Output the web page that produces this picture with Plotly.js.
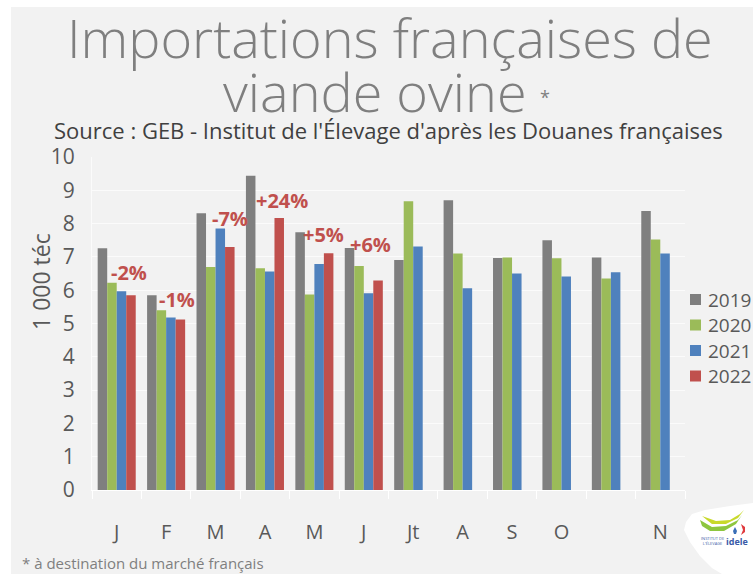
<!DOCTYPE html>
<html>
<head>
<meta charset="utf-8">
<script src="https://cdn.plot.ly/plotly-3.0.1.min.js"></script>
<style>
html,body{margin:0;padding:0;background:#ffffff;width:753px;height:574px;overflow:hidden;}
#chart{position:absolute;left:0;top:0;width:753px;height:574px;}
</style>
</head>
<body>
<div id="chart"></div>
<script>
// ---- data ----
const categories = ["Jan","Fev","Mar","Avr","Mai","Juin","Juil","Aout","Sep","Oct","Nov","Dec"];
const tickLabels = ["J","F","M","A","M","J","Jt","A","S","O","","N"];
const years = ["2019","2020","2021","2022"];
const v2019 = [7.26, 5.85, 8.31, 9.44, 7.74, 7.27, 6.91, 8.70, 6.97, 7.50, 6.98, 8.38];
const v2020 = [6.22, 5.40, 6.70, 6.66, 5.87, 6.73, 8.67, 7.10, 6.98, 6.96, 6.35, 7.52];
const v2021 = [5.97, 5.18, 7.85, 6.56, 6.79, 5.91, 7.31, 6.06, 6.50, 6.41, 6.54, 7.10];
const v2022 = [5.85, 5.12, 7.30, 8.17, 7.11, 6.29, null, null, null, null, null, null];
const changeLabels = ["-2%","-1%","-7%","+24%","+5%","+6%"];

const colors = ["#7f7f7f","#9bbb59","#4f81bd","#c0504d"];
const series = [v2019, v2020, v2021, v2022];

// ---- layout geometry helpers (pixel -> paper) ----
const M = {l:92, r:68, t:157, b:84};
const W = 753 - M.l - M.r, H = 574 - M.t - M.b;
function px(x){ return (x - M.l) / W; }
function py(y){ return 1 - (y - M.t) / H; }

const traces = series.map((vals, i) => ({
  type: "bar",
  name: years[i],
  x: categories,
  y: vals,
  marker: {color: colors[i]},
  showlegend: false,
  hoverinfo: "x+y+name"
}));

// percentage annotation positions (category index offset, y value)
const changePos = [[0.25,6.54],[1.22,5.73],[2.29,8.16],[3.35,8.70],[4.19,7.68],[5.13,7.38]];

const FONT = "'Open Sans', Lato, sans-serif";
const annotations = [];
changeLabels.forEach((t, i) => {
  annotations.push({
    x: changePos[i][0], y: changePos[i][1], xref: "x", yref: "y",
    text: "<b>" + t + "</b>", showarrow: false,
    font: {family: FONT, size: 20, color: "#c0504d"},
    xanchor: "center", yanchor: "middle"
  });
});
// titles
annotations.push({xref:"paper", yref:"paper", x: px(390), y: py(37), text: "Importations françaises de",
  showarrow:false, xanchor:"center", yanchor:"middle", font:{family:FONT, size:54, weight:300, color:"#7f7f7f"}});
annotations.push({xref:"paper", yref:"paper", x: px(375), y: py(91), text: "viande ovine",
  showarrow:false, xanchor:"center", yanchor:"middle", font:{family:FONT, size:54, weight:300, color:"#7f7f7f"}});
annotations.push({xref:"paper", yref:"paper", x: px(538), y: py(97), text: "*",
  showarrow:false, xanchor:"left", yanchor:"middle", font:{family:FONT, size:18, color:"#7f7f7f"}});
annotations.push({xref:"paper", yref:"paper", x: px(388), y: py(130),
  text: "Source : GEB - Institut de l'Élevage d'après les Douanes françaises",
  showarrow:false, xanchor:"center", yanchor:"middle", font:{family:FONT, size:22, color:"#404040"}});
// y axis title
annotations.push({xref:"paper", yref:"paper", x: px(41), y: py(282), text: "1 000 téc", textangle: -90,
  showarrow:false, xanchor:"center", yanchor:"middle", font:{family:FONT, size:23, color:"#595959"}});
// footnote
annotations.push({xref:"paper", yref:"paper", x: px(20), y: py(563), text: "* à destination du marché français",
  showarrow:false, xanchor:"left", yanchor:"middle", font:{family:FONT, size:15, color:"#7f7f7f"}});
// custom legend (text)
const legendY = [299.5, 325, 350.5, 376];
years.forEach((yr, i) => {
  annotations.push({xref:"paper", yref:"paper", x: px(706), y: py(legendY[i]), text: yr,
    showarrow:false, xanchor:"left", yanchor:"middle", font:{family:FONT, size:19, color:"#595959"}});
});
// logo text
annotations.push({xref:"paper", yref:"paper", x: px(724), y: py(541), text: "<b>idele</b>",
  showarrow:false, xanchor:"left", yanchor:"middle", font:{family:FONT, size:9, color:"#3a5ba8"}});
annotations.push({xref:"paper", yref:"paper", x: px(699), y: py(541), text: "INSTITUT DE<br>L'ÉLEVAGE",
  showarrow:false, xanchor:"left", yanchor:"middle", font:{family:FONT, size:4, color:"#3a5ba8"}});

function pathFrom(pts){
  return pts.map((p,i)=> (i===0?"M":"L") + px(p[0]).toFixed(4) + "," + py(p[1]).toFixed(4)).join(" ") + " Z";
}
const shapes = [
  // grey card background
  {type:"rect", xref:"paper", yref:"paper", layer:"below",
   x0: px(11), x1: px(753), y0: py(574), y1: py(7), fillcolor:"#f2f2f2", line:{width:0}},
  // logo blob
  {type:"path", xref:"paper", yref:"paper", layer:"above",
   path: pathFrom([[686,522],[692,514],[705,510],[730,506],[753,503],[753,574],[722,574],[712,568],[700,556],[690,542],[684,530]]),
   fillcolor:"#ffffff", line:{width:0}},
  {type:"path", xref:"paper", yref:"paper", layer:"above",
   path: pathFrom([[700,520],[712,527],[726,526],[738,520],[742,515],[736,524],[724,531],[710,531],[702,526]]),
   fillcolor:"#8dc63f", line:{width:0}},
  {type:"path", xref:"paper", yref:"paper", layer:"above",
   path: pathFrom([[702,516],[716,521],[730,520],[740,514],[744,510],[738,518],[726,524],[712,524]]),
   fillcolor:"#c8d92b", line:{width:0}},
  {type:"path", xref:"paper", yref:"paper", layer:"above",
   path: pathFrom([[741,524],[745,527],[745,532],[741,535],[743,530]]),
   fillcolor:"#e03a3e", line:{width:0}},
  {type:"path", xref:"paper", yref:"paper", layer:"above",
   path: pathFrom([[735,527],[737,531],[736,534],[734,534],[733,531]]),
   fillcolor:"#3a6fb7", line:{width:0}}
];
// custom legend squares
years.forEach((yr, i) => {
  shapes.push({type:"rect", xref:"paper", yref:"paper", layer:"above",
    x0: px(690), x1: px(701), y0: py(legendY[i]+5.5), y1: py(legendY[i]-5.5),
    fillcolor: colors[i], line:{width:0}});
});

const layout = {
  width: 753, height: 574,
  margin: M,
  paper_bgcolor: "#ffffff",
  plot_bgcolor: "#f2f2f2",
  barmode: "group",
  bargap: 0.23,
  bargroupgap: 0,
  showlegend: false,
  xaxis: {
    type: "category",
    tickmode: "array",
    tickvals: categories,
    ticktext: tickLabels,
    tickfont: {family: FONT, size: 20, color: "#595959"},
    ticks: "outside", tickson: "boundaries", ticklen: 8, tickcolor: "#ffffff",
    ticklabelstandoff: 24,
    showline: true, linecolor: "#ffffff", linewidth: 1,
    showgrid: false, zeroline: false, fixedrange: true
  },
  yaxis: {
    range: [0, 10], dtick: 1, tick0: 0,
    tickfont: {family: FONT, size: 21, color: "#595959"},
    ticklabelstandoff: 12,
    showgrid: true, gridcolor: "#fbfbfb", gridwidth: 1,
    showline: true, linecolor: "#fbfbfb",
    zeroline: false, fixedrange: true
  },
  annotations: annotations,
  shapes: shapes,
  font: {family: FONT, color: "#595959"}
};

Plotly.newPlot("chart", traces, layout, {displayModeBar: false, staticPlot: true});
</script>
</body>
</html>
